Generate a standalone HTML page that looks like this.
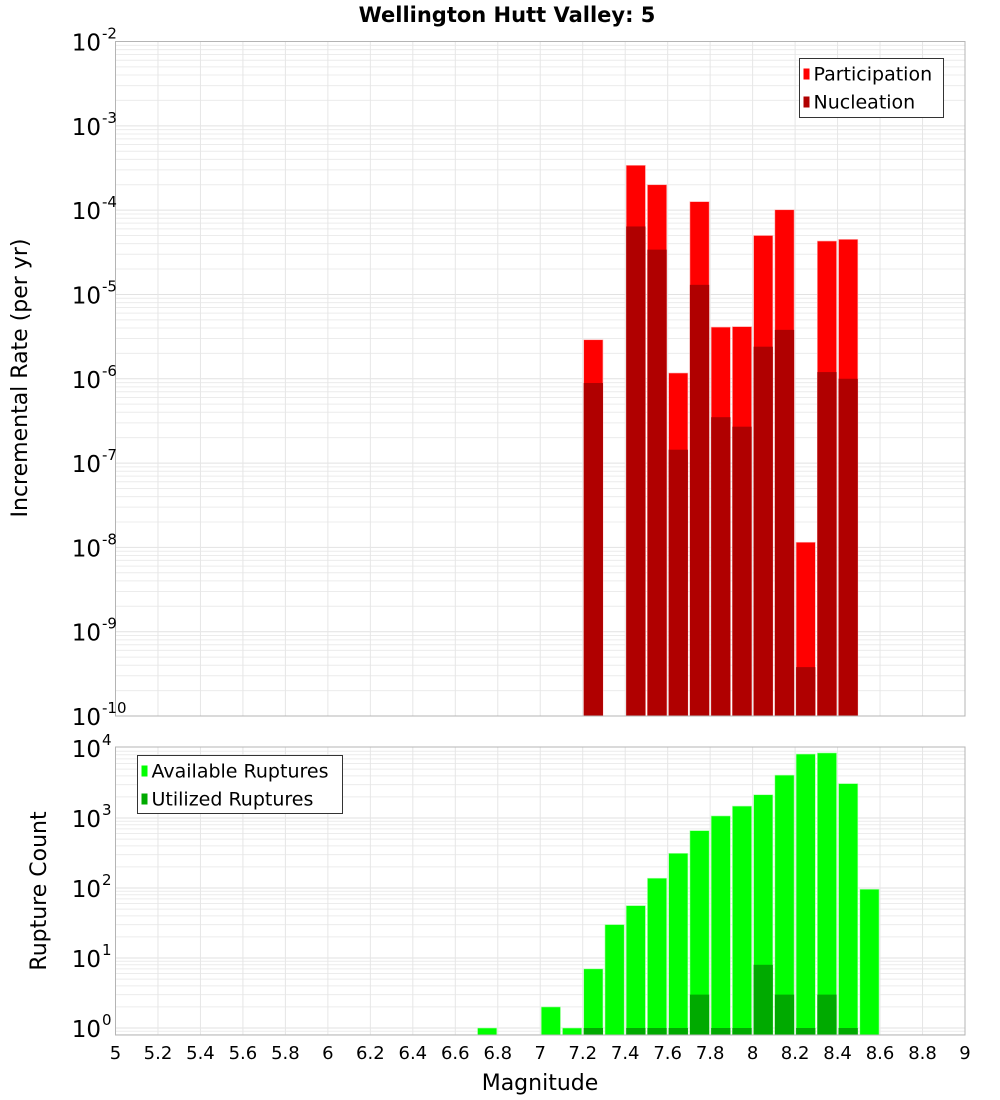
<!DOCTYPE html>
<html><head><meta charset="utf-8"><style>
html,body{margin:0;padding:0;background:#fff;}
svg{display:block;font-family:"DejaVu Sans","Liberation Sans",sans-serif;}
</style></head><body>
<svg id="c" width="1000" height="1100" viewBox="0 0 1000 1100"></svg>
<script>
const binCenters=[6.75,7.05,7.15,7.25,7.35,7.45,7.55,7.65,7.75,7.85,7.95,8.05,8.15,8.25,8.35,8.45,8.55];
const availableCounts=[1,2,1,7,30,56,138,313,660,1070,1480,2150,4100,8200,8500,3100,96];
const utilizedCounts=[0,0,0,1,0,1,1,1,3,1,1,8,3,1,3,1,0];
const rateMags=[7.25,7.45,7.55,7.65,7.75,7.85,7.95,8.05,8.15,8.25,8.35,8.45];
const participationRates=[2.9e-6,3.4e-4,2.0e-4,1.17e-6,1.26e-4,4.1e-6,4.15e-6,5.0e-5,1.01e-4,1.15e-8,4.3e-5,4.5e-5];
const nucleationRates=[8.9e-7,6.4e-5,3.4e-5,1.44e-7,1.3e-5,3.5e-7,2.7e-7,2.4e-6,3.8e-6,3.8e-10,1.2e-6,1.0e-6];
const xTicks=[5,5.2,5.4,5.6,5.8,6,6.2,6.4,6.6,6.8,7,7.2,7.4,7.6,7.8,8,8.2,8.4,8.6,8.8,9];
const topExps=[-2,-3,-4,-5,-6,-7,-8,-9,-10];
const botExps=[4,3,2,1,0];

const NS="http://www.w3.org/2000/svg";
const svg=document.getElementById('c');
function mk(tag,attrs,parent){const e=document.createElementNS(NS,tag);for(const k in attrs)e.setAttribute(k,attrs[k]);(parent||svg).appendChild(e);return e;}
const L=115.5,R=965;
const x=m=>L+(m-5)/4*(R-L);
const T1=41.5,B1=716;
const yTop=v=>T1+(-2-Math.log10(v))*(B1-T1)/8;
const T2=747,B2=1035;
const yBot=v=>1028-Math.log10(v)*70;
const binW=(R-L)/40;

function grid(T,B,yf,loExp,hiExp,name){
  const g=mk('g',{});
  for(let e=loExp;e<=hiExp;e++){for(let k=1;k<10;k++){const v=k*Math.pow(10,e);const yy=yf(v);if(yy<T-0.1||yy>B+0.1)continue;
    mk('line',{x1:L,x2:R,y1:yy,y2:yy,stroke:k==1?'#e2e2e2':'#ececec','stroke-width':1},g);}}
  xTicks.forEach(t=>{const xx=x(t);mk('line',{x1:xx,x2:xx,y1:T,y2:B,stroke:'#e6e6e6','stroke-width':1},g);});
}
grid(T1,B1,yTop,-10,-3,'top-grid');
grid(T2,B2,yBot,-1,3,'bottom-grid');

// title
const title=mk('text',{x:507,y:22,'text-anchor':'middle','font-size':21,'font-weight':'bold'});title.textContent='Wellington Hutt Valley: 5';


// top bars
rateMags.forEach((m,i)=>{
  const x0=x(m)-binW/2+1, w=binW-2;
  const p=mk('rect',{x:x0,y:yTop(participationRates[i]),width:w,height:B1-yTop(participationRates[i]),fill:'#ff0000',stroke:'#ffb0b0','stroke-width':0.6});
  
  const n=mk('rect',{x:x0,y:yTop(nucleationRates[i]),width:w,height:B1-yTop(nucleationRates[i]),fill:'#b00000'});
  
});
// bottom bars
binCenters.forEach((m,i)=>{
  const x0=x(m)-binW/2+1, w=binW-2;
  const a=mk('rect',{x:x0,y:yBot(availableCounts[i]),width:w,height:B2-yBot(availableCounts[i]),fill:'#00ff00',stroke:'#b0ffb0','stroke-width':0.6});
  
  if(utilizedCounts[i]>0){const u=mk('rect',{x:x0,y:yBot(utilizedCounts[i]),width:w,height:B2-yBot(utilizedCounts[i]),fill:'#00aa00'});
    }
});

// frames
mk('rect',{x:L,y:T1,width:R-L,height:B1-T1,fill:'none',stroke:'#b4b4b4','stroke-width':1});
mk('rect',{x:L,y:T2,width:R-L,height:B2-T2,fill:'none',stroke:'#b4b4b4','stroke-width':1});

// y tick labels
function ylab(e,yy,name){
  const t=mk('text',{x:101,y:yy+9,'text-anchor':'end','font-size':23});
  t.textContent='10';
  const s=mk('text',{x:102,y:yy-3,'text-anchor':'start','font-size':15});s.textContent=String(e);
  
  
}
topExps.forEach(e=>ylab(e,yTop(Math.pow(10,e)),'top-y-tick-label'));
botExps.forEach(e=>ylab(e,yBot(Math.pow(10,e)),'bottom-y-tick-label'));

// x tick labels
xTicks.forEach(t=>{const tx=mk('text',{x:x(t),y:1059,'text-anchor':'middle','font-size':18});tx.textContent=String(t);
  });

// axis titles
const xt=mk('text',{x:540,y:1090,'text-anchor':'middle','font-size':22});xt.textContent='Magnitude';

const yt1=mk('text',{x:0,y:0,'text-anchor':'middle','font-size':22,transform:'translate(27,378) rotate(-90)'});yt1.textContent='Incremental Rate (per yr)';

const yt2=mk('text',{x:0,y:0,'text-anchor':'middle','font-size':22,transform:'translate(46,891) rotate(-90)'});yt2.textContent='Rupture Count';


// legends
function legend(bx,by,bw,bh,items,name){
  const g=mk('g',{});
  mk('rect',{x:bx,y:by,width:bw,height:bh,fill:'#fff',stroke:'#333','stroke-width':1},g);
  items.forEach((it,i)=>{
    const cy=by+15+i*28;
    mk('rect',{x:bx+4,y:cy-5,width:6,height:11,fill:it[1]},g);
    const t=mk('text',{x:bx+14,y:cy+7,'font-size':19},g);t.textContent=it[0];
    
  });
}
legend(799.5,58.5,144,59,[['Participation','#ff0000'],['Nucleation','#b00000']],'top-legend');
legend(137.5,755.5,205,58,[['Available Ruptures','#00ff00'],['Utilized Ruptures','#00aa00']],'bottom-legend');
</script>
</body></html>
